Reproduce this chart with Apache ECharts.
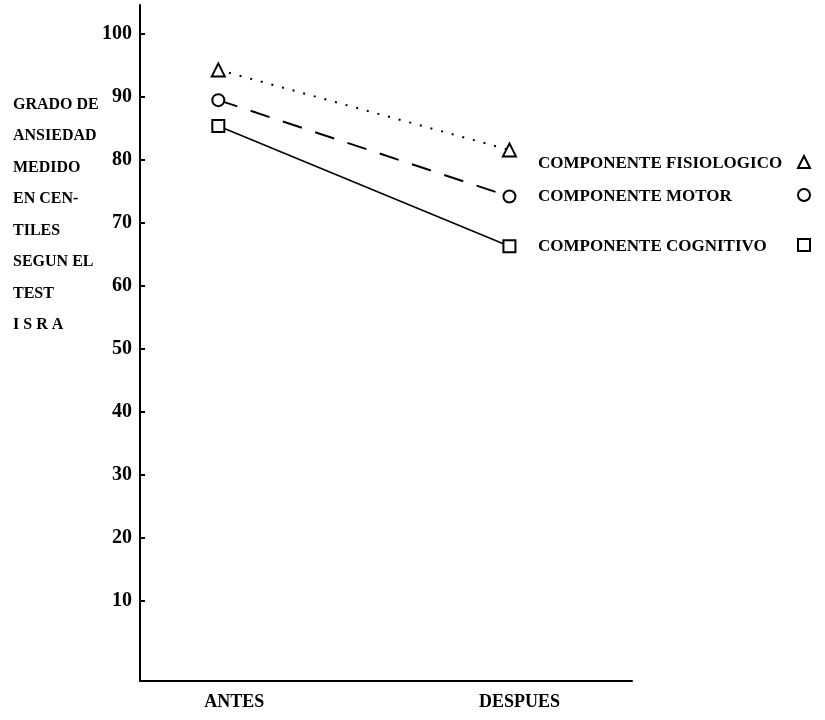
<!DOCTYPE html>
<html><head><meta charset="utf-8">
<script src="https://cdn.jsdelivr.net/npm/echarts@6/dist/echarts.min.js"></script>
<style>html,body{margin:0;padding:0;background:#fff}#c{width:825px;height:720px}</style>
</head><body><div id="c"></div>
<script>
const categories = ['ANTES', 'DESPUES'];
const fisiologico = [94.3, 81.6];
const motor = [89.5, 74.2];
const cognitivo = [85.4, 66.3];
const yTicks = [10, 20, 30, 40, 50, 60, 70, 80, 90, 100];
const seriesNames = ['COMPONENTE FISIOLOGICO', 'COMPONENTE MOTOR', 'COMPONENTE COGNITIVO'];
const yTitle = 'GRADO DE\nANSIEDAD\nMEDIDO\nEN CEN-\nTILES\nSEGUN EL\nTEST\nI S R A';

const FONT = "'Liberation Serif', 'DejaVu Serif', serif";
const pts = arr => arr.map((v, i) => [i, v]);
const hollow = {color: '#fff', borderColor: '#000', borderWidth: 2};
const txt = (size) => ({fontFamily: FONT, fontWeight: 'bold', fontSize: size, color: '#000'});
const icons = ['triangle', 'circle', 'rect'];
const legendTops = [150, 183, 233];

const chart = echarts.init(document.getElementById('c'), null, {renderer: 'canvas'});
chart.setOption({
  backgroundColor: '#fff',
  animation: false,
  title: {
    text: yTitle, left: 8, top: 84,
    textStyle: Object.assign(txt(16), {lineHeight: 31.5})
  },
  grid: {left: 140, right: 193, top: 5, bottom: 39, containLabel: false},
  xAxis: {
    type: 'value', min: -0.269, max: 1.421,
    axisLine: {show: true, onZero: false, lineStyle: {color: '#000', width: 2}},
    axisTick: {show: false},
    splitLine: {show: false},
    axisLabel: Object.assign(txt(18), {
      customValues: [0, 1], margin: 12,
      formatter: v => v === 0 ? '{a|' + categories[0] + '}' : '{b|' + categories[1] + '}',
      rich: {
        a: Object.assign(txt(18), {padding: [0, 0, 0, 32]}),
        b: Object.assign(txt(18), {padding: [0, 0, 0, 20]})
      }
    })
  },
  yAxis: {
    type: 'value', min: -2.7, max: 104.6,
    axisLine: {show: true, onZero: false, lineStyle: {color: '#000', width: 2}},
    axisTick: {show: true, inside: true, length: 5, customValues: yTicks, lineStyle: {color: '#000', width: 2}},
    splitLine: {show: false},
    axisLabel: Object.assign(txt(20), {customValues: yTicks, margin: 8})
  },
  legend: [0, 1, 2].flatMap(k => [
    {
      data: [{name: seriesNames[k], icon: 'none'}],
      left: 528, top: legendTops[k], selectedMode: false,
      itemWidth: 0, itemHeight: 12, itemGap: 0,
      textStyle: txt(17)
    },
    {
      data: [{name: seriesNames[k], icon: icons[k]}],
      left: 792, top: legendTops[k], selectedMode: false,
      itemWidth: 12, itemHeight: 12,
      itemStyle: hollow,
      formatter: () => '',
      textStyle: txt(17)
    }
  ]),
  series: [
    {name: seriesNames[0], type: 'line', data: pts(fisiologico), symbol: 'triangle', symbolSize: 13,
     itemStyle: hollow, lineStyle: {color: '#000', width: 2, type: [2, 9]}},
    {name: seriesNames[1], type: 'line', data: pts(motor), symbol: 'circle', symbolSize: 12,
     itemStyle: hollow, lineStyle: {color: '#000', width: 2, type: [20, 14]}},
    {name: seriesNames[2], type: 'line', data: pts(cognitivo), symbol: 'rect', symbolSize: 12,
     itemStyle: hollow, lineStyle: {color: '#000', width: 1.5, type: 'solid'}}
  ]
});
</script></body></html>
